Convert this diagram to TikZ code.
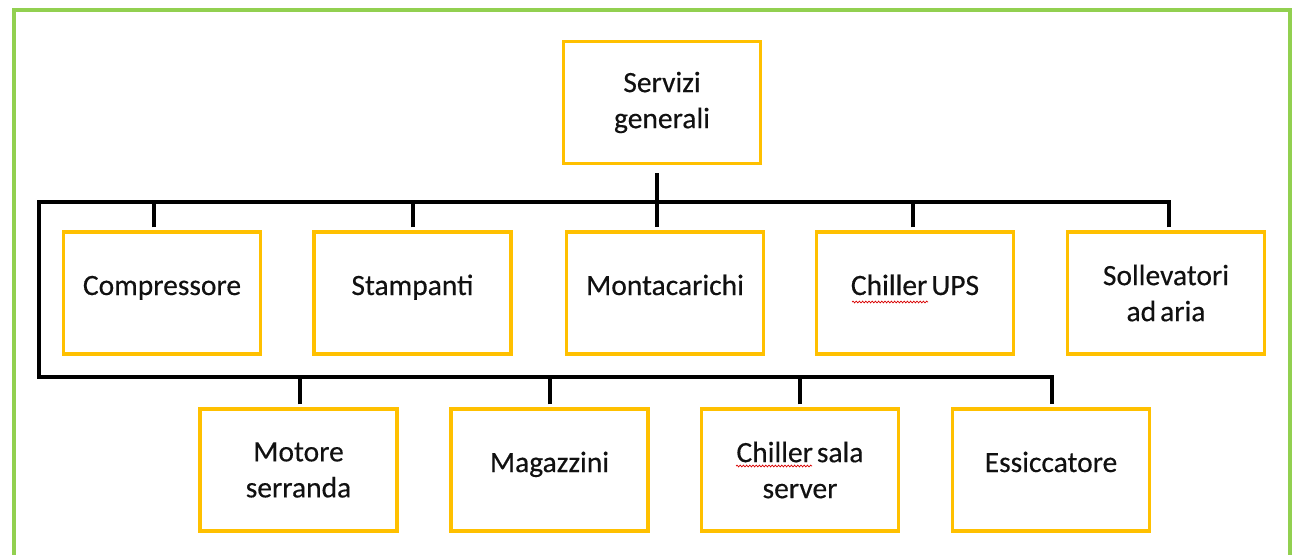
\documentclass[tikz,border=0pt]{standalone}
\usepackage{fontspec}
\setmainfont{Carlito}[WordSpace=0.6, FakeBold=0.35]
\usetikzlibrary{decorations.pathmorphing,calc}
\definecolor{boxor}{HTML}{FFC000}
\definecolor{frgreen}{HTML}{92D050}
\definecolor{txt}{HTML}{111111}
\begin{document}
\begin{tikzpicture}[x=1pt,y=-1pt,
  box/.style={draw=boxor, line width=3.2pt, minimum width=197pt, minimum height=122pt,
    inner sep=0pt, align=center, text=txt, font=\fontsize{29.5}{36}\selectfont},
  oneline/.style={box, text height=16pt, text depth=12pt},
  conn/.style={draw=black, line width=3.5pt, line join=miter},
  squig/.style={draw=red!85!black, line width=0.7pt,
    decorate, decoration={snake, segment length=3.2pt, amplitude=0.9pt}},
  frame/.style={draw=frgreen, line width=4pt}]
\useasboundingbox (0,0) rectangle (1292,554);
\clip (0,0) rectangle (1292,554);
\fill[white] (0,0) rectangle (1292,554);
\draw[frame] (14,9.5) rectangle (1290,620);

% nodes
\node[box] (serv) at (662,102.5) {Servizi\\generali};
\node[oneline] (comp) at (162,293) {Compressore};
\node[oneline] (stam) at (412.5,293) {Stampanti};
\node[oneline] (mont) at (665,293) {Montacarichi};
\node[oneline] (ups) at (915,293) {Chiller UPS};
\node[box] (soll) at (1166,293) {Sollevatori\\ad aria};
\node[box] (mot) at (298.5,470) {Motore\\serranda};
\node[oneline] (mag) at (549.5,470) {Magazzini};
\node[box] (csr) at (800,470) {Chiller sala\\server};
\node[oneline] (ess) at (1051,470) {Essiccatore};

% spell-check underlines
\draw[squig] ($(ups.center)+(-63,9)$) -- ($(ups.center)+(13,9)$);
\draw[squig] ($(csr.center)+(-64,-4)$) -- ($(csr.center)+(12,-4)$);

% bus coordinates
\coordinate (b1L) at (39,202);
\coordinate (b1R) at (1169,202);
\coordinate (b2L) at (39,377);
\coordinate (b2R) at (1052,377);

% tick end points
\coordinate (ts) at ([xshift=-5pt,yshift=-8pt]serv.south);
\coordinate (tcomp) at ([xshift=-8pt,yshift=3pt]comp.north);
\coordinate (tstam) at ([xshift=0.5pt,yshift=3pt]stam.north);
\coordinate (tmont) at ([xshift=-8pt,yshift=3pt]mont.north);
\coordinate (tups) at ([xshift=-2pt,yshift=3pt]ups.north);
\coordinate (tsoll) at ([xshift=3pt,yshift=3pt]soll.north);
\coordinate (tmot) at ([xshift=1.5pt,yshift=3pt]mot.north);
\coordinate (tmag) at ([xshift=0.5pt,yshift=3pt]mag.north);
\coordinate (tcsr) at ([yshift=3pt]csr.north);
\coordinate (tess) at ([xshift=1pt,yshift=3pt]ess.north);

% connectors
\draw[conn] (tsoll) -- (tsoll |- b1R) -- (b1L) -- (b2L) -- (b2R) -- (tess);
\draw[conn] (ts) -- (tmont);
\draw[conn] (tcomp) -- (tcomp |- b1L);
\draw[conn] (tstam) -- (tstam |- b1L);
\draw[conn] (tups) -- (tups |- b1L);
\draw[conn] (tmot) -- (tmot |- b2L);
\draw[conn] (tmag) -- (tmag |- b2L);
\draw[conn] (tcsr) -- (tcsr |- b2L);
\end{tikzpicture}
\end{document}
